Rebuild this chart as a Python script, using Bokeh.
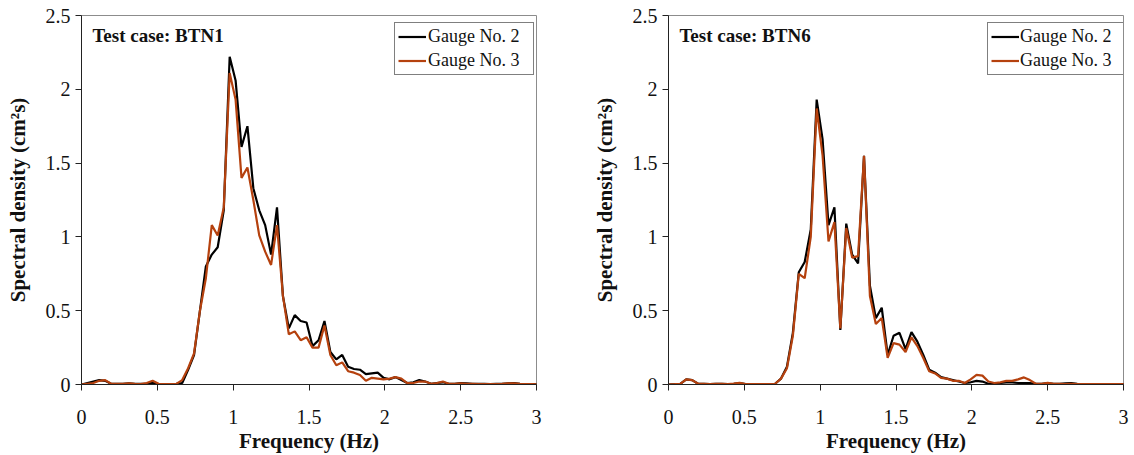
from bokeh.plotting import figure
from bokeh.layouts import row
from bokeh.models import FixedTicker, NumeralTickFormatter, Label, Range1d
from bokeh.embed import file_html
from bokeh.resources import INLINE

# ---------------- data ----------------
freq = [0.000, 0.039, 0.078, 0.117, 0.156, 0.195, 0.234, 0.273, 0.313, 0.352,
        0.391, 0.430, 0.469, 0.508, 0.547, 0.586, 0.625, 0.664, 0.703, 0.742,
        0.781, 0.820, 0.859, 0.898, 0.938, 0.977, 1.016, 1.055, 1.094, 1.133,
        1.172, 1.211, 1.250, 1.289, 1.328, 1.367, 1.406, 1.445, 1.484, 1.523,
        1.563, 1.602, 1.641, 1.680, 1.719, 1.758, 1.797, 1.836, 1.875, 1.914,
        1.953, 1.992, 2.031, 2.070, 2.109, 2.148, 2.188, 2.227, 2.266, 2.305,
        2.344, 2.383, 2.422, 2.461, 2.500, 2.539, 2.578, 2.617, 2.656, 2.695,
        2.734, 2.773, 2.813, 2.852, 2.891, 2.930, 2.969, 3.008]

btn1_g2 = [0, 0.01, 0.02, 0.03, 0.025, 0.005, 0.005, 0.005, 0.008, 0.005,
           0.005, 0.005, 0.012, 0.003, 0.003, 0.003, 0.004, 0.01, 0.1, 0.2,
           0.5, 0.8, 0.88, 0.93, 1.18, 2.22, 2.06, 1.61, 1.75, 1.33,
           1.18, 1.08, 0.88, 1.2, 0.6, 0.38, 0.47, 0.43, 0.42, 0.26,
           0.3, 0.43, 0.22, 0.17, 0.2, 0.12, 0.105, 0.1, 0.07, 0.075,
           0.08, 0.045, 0.035, 0.05, 0.03, 0.01, 0.015, 0.03, 0.02, 0.005,
           0.01, 0.015, 0.005, 0.005, 0.01, 0.008, 0.005, 0.005, 0.004, 0.003,
           0.005, 0.005, 0.008, 0.01, 0.004, 0.002, 0.002, 0.001]

btn1_g3 = [0, 0.005, 0.01, 0.025, 0.03, 0.005, 0.005, 0.005, 0.008, 0.005,
           0.003, 0.01, 0.025, 0.005, 0.003, 0.003, 0.004, 0.03, 0.11, 0.21,
           0.5, 0.72, 1.08, 1.01, 1.2, 2.11, 1.93, 1.4, 1.47, 1.25,
           1.01, 0.9, 0.81, 1.08, 0.6, 0.34, 0.36, 0.3, 0.32, 0.25,
           0.25, 0.4, 0.2, 0.13, 0.15, 0.09, 0.08, 0.065, 0.025, 0.045,
           0.04, 0.035, 0.04, 0.05, 0.04, 0.01, 0.01, 0.02, 0.02, 0.005,
           0.01, 0.02, 0.005, 0.005, 0.008, 0.005, 0.005, 0.003, 0.003, 0.003,
           0.003, 0.005, 0.008, 0.008, 0.004, 0.002, 0.002, 0.001]

btn6_g2 = [0, 0.002, 0.005, 0.035, 0.03, 0.005, 0.004, 0.003, 0.005, 0.004,
           0.003, 0.005, 0.01, 0.003, 0.002, 0.002, 0.002, 0.002, 0.005, 0.04,
           0.12, 0.35, 0.76, 0.83, 1.05, 1.93, 1.66, 1.08, 1.2, 0.37,
           1.09, 0.88, 0.82, 1.55, 0.67, 0.45, 0.52, 0.2, 0.33, 0.35,
           0.24, 0.355, 0.29, 0.2, 0.1, 0.08, 0.05, 0.04, 0.03, 0.02,
           0.01, 0.015, 0.025, 0.02, 0.005, 0.005, 0.01, 0.015, 0.015, 0.01,
           0.01, 0.01, 0.005, 0.005, 0.01, 0.005, 0.005, 0.008, 0.01, 0.005,
           0.003, 0.003, 0.002, 0.002, 0.002, 0.002, 0.002, 0.002]

btn6_g3 = [0, 0.002, 0.005, 0.035, 0.03, 0.005, 0.004, 0.003, 0.005, 0.004,
           0.003, 0.006, 0.012, 0.003, 0.002, 0.002, 0.002, 0.002, 0.005, 0.04,
           0.11, 0.33, 0.75, 0.72, 1.0, 1.87, 1.55, 0.97, 1.1, 0.38,
           1.06, 0.86, 0.87, 1.55, 0.6, 0.41, 0.45, 0.18, 0.28, 0.27,
           0.22, 0.32, 0.26, 0.18, 0.09, 0.075, 0.045, 0.04, 0.025, 0.025,
           0.01, 0.035, 0.065, 0.06, 0.02, 0.01, 0.015, 0.025, 0.025, 0.035,
           0.048, 0.03, 0.005, 0.005, 0.012, 0.005, 0.004, 0.003, 0.004, 0.003,
           0.003, 0.003, 0.002, 0.002, 0.002, 0.002, 0.002, 0.002]

x_ticks = [0, 0.5, 1, 1.5, 2, 2.5, 3]
y_ticks = [0, 0.5, 1, 1.5, 2, 2.5]
series_names = ["Gauge No. 2", "Gauge No. 3"]
case_names = ["Test case: BTN1", "Test case: BTN6"]

# ---------------- styling ----------------
SERIF = "Liberation Serif"
BLACK = "#000000"
ORANGE = "#B5410E"
TXT = "#111111"


def make_panel(width, border_left, border_right, g2, g3, case, leg_loc, leg_label_w, leg_standoff):
    p = figure(width=width, height=455, output_backend="svg", toolbar_location=None,
               x_range=Range1d(0, 3), y_range=Range1d(0, 2.5),
               min_border_left=border_left, min_border_right=border_right,
               min_border_top=15, min_border_bottom=70)
    p.background_fill_color = "white"
    p.border_fill_color = "white"
    p.outline_line_color = "#8c8c8c"
    p.outline_line_width = 1
    p.xgrid.visible = False
    p.ygrid.visible = False

    p.line(freq, g2, line_color=BLACK, line_width=2.2, legend_label=series_names[0])
    p.line(freq, g3, line_color=ORANGE, line_width=2.2, legend_label=series_names[1])

    for ax, ticks in ((p.xaxis[0], x_ticks), (p.yaxis[0], y_ticks)):
        ax.ticker = FixedTicker(ticks=ticks)
        ax.formatter = NumeralTickFormatter(format="0.[0]")
        ax.axis_line_color = "#222222"
        ax.axis_line_width = 1
        ax.major_tick_line_color = "#222222"
        ax.major_tick_in = 0
        ax.major_tick_out = 6
        ax.minor_tick_line_color = None
        ax.major_label_text_font = SERIF
        ax.major_label_text_font_size = "20px"
        ax.major_label_text_color = TXT
        ax.axis_label_text_font = SERIF
        ax.axis_label_text_font_style = "bold"
        ax.axis_label_text_font_size = "21px"
        ax.axis_label_text_color = TXT

    p.xaxis.axis_label = "Frequency (Hz)"
    p.yaxis.axis_label = "Spectral density (cm²s)"
    p.xaxis.major_label_standoff = 19
    p.xaxis.axis_label_standoff = 2
    p.yaxis.major_label_standoff = 5
    p.yaxis.axis_label_standoff = 13

    p.add_layout(Label(x=0.072, y=2.365, text=case, text_font=SERIF,
                       text_font_style="bold", text_font_size="19px",
                       text_color=TXT, text_baseline="middle"))

    leg = p.legend[0]
    leg.location = leg_loc
    leg.label_text_font = SERIF
    leg.label_text_font_size = "18px"
    leg.label_text_color = TXT
    leg.border_line_color = "#000000"
    leg.border_line_width = 1
    leg.background_fill_color = "white"
    leg.background_fill_alpha = 1
    leg.glyph_width = 28
    leg.glyph_height = 19
    leg.label_height = 19
    leg.label_width = leg_label_w
    leg.label_standoff = leg_standoff
    leg.padding = 3
    leg.spacing = 3
    leg.margin = 0
    return p


p1 = make_panel(563, 81, 27, btn1_g2, btn1_g3, case_names[0], (313, 309), 102, 2)
p2 = make_panel(567, 105, 7, btn6_g2, btn6_g3, case_names[1], (319, 309), 100, 1)

layout = row(p1, p2)
open("out.html", "w").write(file_html(layout, INLINE))
